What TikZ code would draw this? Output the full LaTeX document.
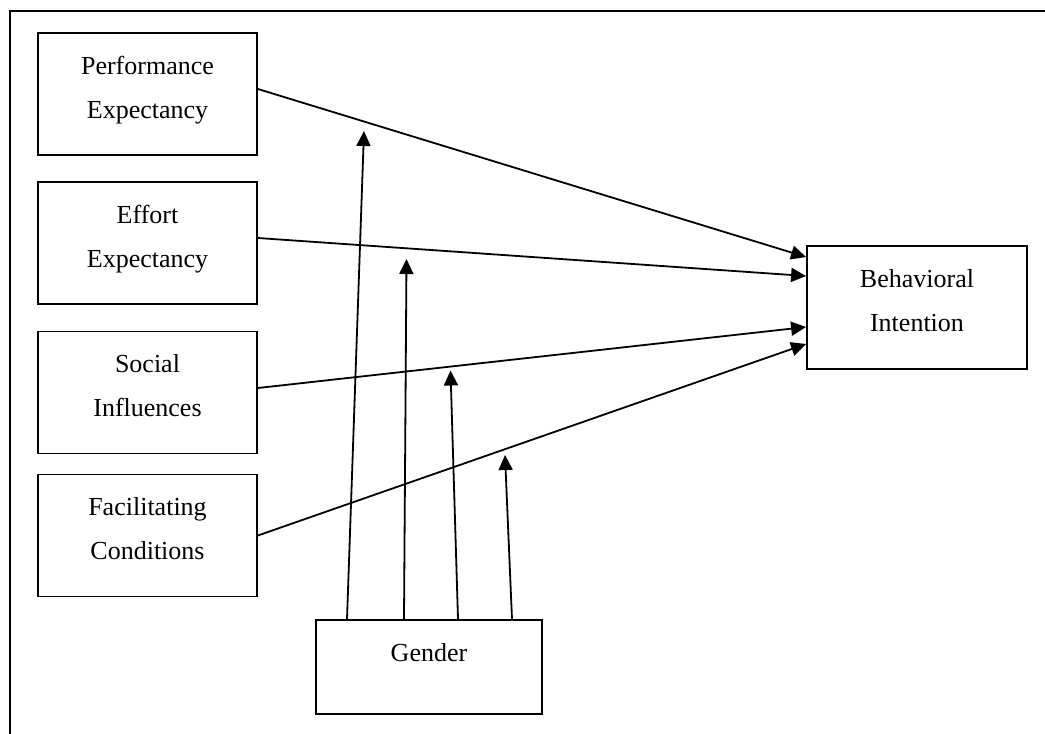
\documentclass[tikz,border=0pt]{standalone}
\usepackage{fontspec}
\setmainfont{Liberation Serif}
\usetikzlibrary{arrows.meta}

\begin{document}
\begin{tikzpicture}[x=0.5pt, y=-0.5pt,
                    font=\fontsize{13}{22}\selectfont,
                    factor/.style={rectangle, draw, line width=0.9pt, align=center, inner xsep=0pt, inner ysep=0pt,
                                   minimum width=109.5pt, text height=42.5pt, text depth=18.5pt},
                    link/.style={line width=0.9pt, -{Triangle[length=7.5pt, width=7pt]}}]
  \useasboundingbox (0,0) rectangle (1045,734);
  \draw[line width=1.1pt] (10,734) -- (10,11) -- (1045,11);
  \node[factor] (perf) at (147.5,94) {Performance\\Expectancy};
  \node[factor, below of=perf, node distance=74.5pt] (effort) {Effort\\Expectancy};
  \node[factor, below of=effort, node distance=74.75pt] (social) {Social\\Influences};
  \node[factor, below of=social, node distance=71.5pt] (facil) {Facilitating\\Conditions};
  \node[factor, minimum width=110pt, text depth=19pt] (intent) at (917,307.5) {Behavioral\\Intention};
  \node[factor, minimum width=113pt, text height=20.5pt, text depth=26.5pt] (gender) at (429,667) {Gender};
  \coordinate (m1) at (364,131);
  \coordinate (m2) at (406.5,259);
  \coordinate (m3) at (450.5,370.5);
  \coordinate (m4) at (505,455);
  \draw[link] ([yshift=2.5pt]perf.east) -- ([yshift=25.25pt]intent.west);
  \draw[link] ([yshift=2.5pt]effort.east) -- ([yshift=15.75pt]intent.west);
  \draw[link] ([yshift=2.25pt]social.east) -- ([yshift=-9.75pt]intent.west);
  \draw[link] (facil.east) -- ([yshift=-18.25pt]intent.west);
  \draw[link] ([xshift=-41pt]gender.north) -- (m1);
  \draw[link] ([xshift=-12.5pt]gender.north) -- (m2);
  \draw[link] ([xshift=14.5pt]gender.north) -- (m3);
  \draw[link] ([xshift=41.5pt]gender.north) -- (m4);
\end{tikzpicture}
\end{document}
